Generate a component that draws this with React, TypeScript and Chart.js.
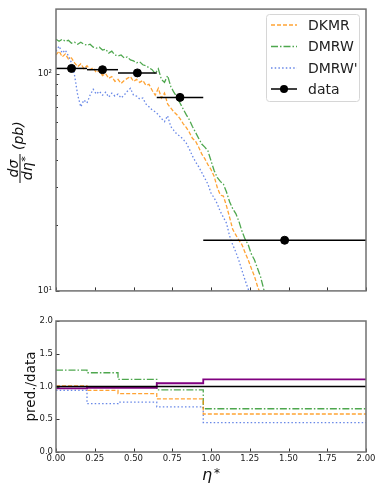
import React, { useEffect, useRef } from "react";
import { Chart, registerables } from "chart.js";

Chart.register(...registerables);

const FONT = '"DejaVu Sans", sans-serif';

// ---------- data ----------
const etaGrid = [
  0.0, 0.02, 0.04, 0.06, 0.08, 0.1, 0.12, 0.14, 0.16, 0.18,
  0.2, 0.22, 0.24, 0.26, 0.28, 0.3, 0.32, 0.34, 0.36, 0.38,
  0.4, 0.42, 0.44, 0.46, 0.48, 0.5, 0.52, 0.54, 0.56, 0.58,
  0.6, 0.62, 0.64, 0.66, 0.68, 0.7, 0.72, 0.74, 0.76, 0.78,
  0.8, 0.82, 0.84, 0.86, 0.88, 0.9, 0.92, 0.94, 0.96, 0.98,
  1.0, 1.02, 1.04, 1.06, 1.08, 1.1, 1.12, 1.14, 1.16, 1.18,
  1.2, 1.22, 1.24, 1.26, 1.28, 1.3, 1.32, 1.34, 1.36,
];

const dkmr = [
  121.8, 126.9, 119.3, 123.1, 116.8, 118.0, 112.1, 107.5, 110.9, 105.3,
  108.6, 104.2, 106.4, 101.0, 103.2, 97.9, 100.0, 95.0, 96.9, 92.0,
  94.0, 90.1, 93.0, 95.0, 96.9, 92.0, 94.0, 91.1, 93.0, 88.3,
  89.2, 83.8, 79.6, 85.6, 77.2, 81.3, 72.5, 69.5, 66.7, 64.7,
  62.1, 58.9, 56.5, 53.7, 50.4, 48.9, 45.9, 42.7, 40.6, 38.1,
  36.2, 33.7, 30.0, 27.6, 27.3, 24.6, 21.8, 19.2, 18.1, 17.1,
  16.3, 15.0, 13.9, 12.7, 11.7, 10.5, 9.6,
];

const dmrw = [
  143.8, 140.8, 143.8, 140.8, 142.3, 137.9, 139.4, 136.5, 139.4, 136.5,
  135.1, 136.5, 132.3, 130.9, 132.3, 128.3, 129.6, 124.3, 126.9, 121.8,
  120.5, 121.8, 118.0, 119.3, 115.6, 114.4, 112.1, 113.3, 109.8, 108.6,
  106.4, 104.2, 100.0, 105.3, 94.0, 91.1, 97.9, 87.4, 82.1, 77.9,
  73.2, 68.8, 64.7, 61.4, 57.1, 53.7, 50.4, 47.4, 45.9, 44.1,
  39.7, 35.8, 33.3, 31.9, 31.0, 28.5, 25.7, 23.9, 22.7, 20.9,
  18.8, 17.3, 16.3, 14.8, 13.9, 12.7, 11.6, 10.2, 9.3,
];

const dmrwPrime = [
  126.9, 133.7, 124.3, 128.3, 120.5, 112.1, 97.9, 79.6, 70.3, 75.6,
  73.2, 79.6, 84.7, 80.4, 82.9, 79.6, 82.1, 77.9, 81.3, 78.8,
  80.4, 77.2, 79.6, 82.9, 85.6, 79.6, 78.8, 76.4, 77.2, 72.5,
  70.3, 68.1, 66.7, 64.7, 62.1, 60.1, 64.0, 57.1, 54.8, 52.6,
  51.5, 49.9, 47.9, 45.0, 41.8, 39.3, 37.3, 35.1, 33.0, 31.0,
  28.2, 26.8, 25.2, 23.2, 21.8, 20.5, 17.9, 16.3, 15.1, 13.8,
  12.4, 11.2, 10.2, 9.3,
];

const dataEta = [0.1, 0.3, 0.525, 0.8, 1.475];
const dataXsec = [105.6, 104.2, 100.7, 77.7, 17.1];
const binEdges = [0, 0.2, 0.4, 0.65, 0.95, 2.0];

const ratioDKMR = [1.01, 0.94, 0.89, 0.81, 0.58];
const ratioDMRW = [1.25, 1.21, 1.11, 0.95, 0.66];
const ratioDMRWPrime = [0.94, 0.74, 0.76, 0.69, 0.45];
const ratioPurple = [0.97, 0.98, 0.98, 1.05, 1.11];
const ratioUnity = [1, 1, 1, 1, 1];

const seriesNames = ["DKMR", "DMRW", "DMRW'", "data"];
const logTicks = [10, 20, 30, 40, 50, 60, 70, 80, 90, 100];
const logMajor = [10, 100];
const etaTicks = [0, 0.25, 0.5, 0.75, 1.0, 1.25, 1.5, 1.75, 2.0];
const ratioTicks = [0, 0.5, 1.0, 1.5, 2.0];

// ---------- styles ----------
const ORANGE = "rgba(255,140,0,0.8)";
const GREEN = "rgba(34,145,34,0.8)";
const BLUE = "rgba(65,105,225,0.8)";
const PURPLE = "#800080";
const DASH = [4, 2];
const DASHDOT = [7, 2, 1.5, 2];
const DOT = [1.5, 2.2];

const styles = [
  { color: ORANGE, dash: DASH },
  { color: GREEN, dash: DASHDOT },
  { color: BLUE, dash: DOT },
];

function curve(values: number[]) {
  return values.map((v, i) => ({ x: etaGrid[i], y: v }));
}
function steps(values: number[]) {
  return binEdges.map((e, i) => ({ x: e, y: values[Math.min(i, values.length - 1)] }));
}

function drawFrameTicks(chart: any, xVals: number[], yMajor: number[], yMinor: number[]) {
  const { ctx, chartArea: a, scales } = chart;
  const sx = scales.x;
  const sy = scales.y;
  ctx.save();
  ctx.strokeStyle = "#333";
  ctx.lineWidth = 1;
  ctx.beginPath();
  xVals.forEach((v) => {
    const px = Math.round(sx.getPixelForValue(v)) + 0.5;
    ctx.moveTo(px, a.bottom);
    ctx.lineTo(px, a.bottom - 3.5);
  });
  yMajor.forEach((v) => {
    const py = Math.round(sy.getPixelForValue(v)) + 0.5;
    ctx.moveTo(a.left, py);
    ctx.lineTo(a.left + 3.5, py);
  });
  yMinor.forEach((v) => {
    const py = Math.round(sy.getPixelForValue(v)) + 0.5;
    ctx.moveTo(a.left, py);
    ctx.lineTo(a.left + 2, py);
  });
  ctx.stroke();
  ctx.strokeStyle = "#707070";
  ctx.lineWidth = 1.5;
  ctx.strokeRect(a.left, a.top, a.right - a.left, a.bottom - a.top);
  ctx.restore();
}

const topDecor = {
  id: "topDecor",
  afterDraw(chart: any) {
    drawFrameTicks(
      chart,
      etaTicks,
      logMajor,
      logTicks.filter((v) => !logMajor.includes(v))
    );
    const ctx = chart.ctx;
    // y label: d sigma / d eta* (pb)
    ctx.save();
    ctx.translate(0, 184);
    ctx.rotate(-Math.PI / 2);
    ctx.fillStyle = "#111";
    const it = `italic 14px ${FONT}`;
    ctx.font = it;
    ctx.textBaseline = "alphabetic";
    const mid = 15.5;
    ctx.textAlign = "center";
    ctx.fillText("dσ", mid, 18);
    ctx.fillRect(1, 19.5, 29, 1);
    ctx.textAlign = "left";
    const w1 = ctx.measureText("dη").width;
    ctx.font = `11px ${FONT}`;
    const w2 = ctx.measureText("*").width;
    const start = mid - (w1 + w2) / 2;
    ctx.font = it;
    ctx.fillText("dη", start, 31.5);
    ctx.font = `11px ${FONT}`;
    ctx.fillText("*", start + w1 + 0.5, 29);
    ctx.font = it;
    ctx.fillText("(pb)", 34, 23);
    ctx.restore();

    // legend
    ctx.save();
    const lx = 266.5, ly = 14.5, lw = 93, lh = 87, r = 3;
    ctx.beginPath();
    ctx.moveTo(lx + r, ly);
    ctx.lineTo(lx + lw - r, ly);
    ctx.quadraticCurveTo(lx + lw, ly, lx + lw, ly + r);
    ctx.lineTo(lx + lw, ly + lh - r);
    ctx.quadraticCurveTo(lx + lw, ly + lh, lx + lw - r, ly + lh);
    ctx.lineTo(lx + r, ly + lh);
    ctx.quadraticCurveTo(lx, ly + lh, lx, ly + lh - r);
    ctx.lineTo(lx, ly + r);
    ctx.quadraticCurveTo(lx, ly, lx + r, ly);
    ctx.closePath();
    ctx.fillStyle = "rgba(255,255,255,0.85)";
    ctx.fill();
    ctx.strokeStyle = "#d6d6d6";
    ctx.lineWidth = 1;
    ctx.stroke();
    const rows = [25, 46.5, 68, 89];
    ctx.font = `14px ${FONT}`;
    ctx.textBaseline = "middle";
    ctx.textAlign = "left";
    seriesNames.forEach((name, i) => {
      const y = rows[i];
      ctx.beginPath();
      if (i < 3) {
        ctx.strokeStyle = styles[i].color;
        ctx.setLineDash(styles[i].dash);
        ctx.lineWidth = 1.3;
      } else {
        ctx.strokeStyle = "#000";
        ctx.setLineDash([]);
        ctx.lineWidth = 1.5;
      }
      ctx.moveTo(271, y);
      ctx.lineTo(297, y);
      ctx.stroke();
      ctx.setLineDash([]);
      if (i === 3) {
        ctx.beginPath();
        ctx.fillStyle = "#000";
        ctx.arc(284, y, 4, 0, Math.PI * 2);
        ctx.fill();
      }
      ctx.fillStyle = "#222";
      ctx.fillText(name, 308, y + 1);
    });
    ctx.restore();
  },
};

const bottomDecor = {
  id: "bottomDecor",
  afterDraw(chart: any) {
    drawFrameTicks(chart, etaTicks, ratioTicks, []);
    const ctx = chart.ctx;
    const a = chart.chartArea;
    ctx.save();
    ctx.fillStyle = "#111";
    // y label
    ctx.translate(35, (a.top + a.bottom) / 2);
    ctx.rotate(-Math.PI / 2);
    ctx.font = `13.5px ${FONT}`;
    ctx.textAlign = "center";
    ctx.textBaseline = "alphabetic";
    ctx.fillText("pred./data", 0, 0);
    ctx.restore();
    // x label eta*
    ctx.save();
    ctx.fillStyle = "#111";
    ctx.font = `italic 16px ${FONT}`;
    const wEta = ctx.measureText("η").width;
    ctx.font = `12px ${FONT}`;
    const wStar = ctx.measureText("*").width;
    const cx = (a.left + a.right) / 2;
    const x0 = cx - (wEta + wStar + 2) / 2;
    ctx.textBaseline = "alphabetic";
    ctx.textAlign = "left";
    ctx.font = `italic 16px ${FONT}`;
    ctx.fillText("η", x0, 180);
    ctx.font = `12px ${FONT}`;
    ctx.fillText("*", x0 + wEta + 2, 177);
    ctx.restore();
  },
};

function lineDs(data: any[], color: string, dash: number[], width: number, stepped?: any) {
  return {
    type: "line",
    data,
    borderColor: color,
    borderDash: dash,
    borderWidth: width,
    pointRadius: 0,
    fill: false,
    tension: 0,
    stepped: stepped || false,
  };
}

export default function App() {
  const topRef = useRef<HTMLCanvasElement>(null);
  const botRef = useRef<HTMLCanvasElement>(null);

  useEffect(() => {
    const tickFont = { family: FONT, size: 8.5 };
    const top = new Chart(topRef.current as HTMLCanvasElement, {
      type: "line",
      data: {
        datasets: [
          {
            type: "scatter",
            data: dataEta.map((e, i) => ({ x: e, y: dataXsec[i] })),
            pointRadius: 4,
            pointBackgroundColor: "#000",
            pointBorderColor: "#000",
            showLine: false,
          },
          ...dataEta.map((_, i) =>
            lineDs(
              [
                { x: binEdges[i], y: dataXsec[i] },
                { x: binEdges[i + 1], y: dataXsec[i] },
              ],
              "#000",
              [],
              1.5
            )
          ),
          lineDs(curve(dkmr), ORANGE, DASH, 1.3),
          lineDs(curve(dmrw), GREEN, DASHDOT, 1.3),
          lineDs(curve(dmrwPrime), BLUE, DOT, 1.3),
        ] as any,
      },
      options: {
        animation: false,
        responsive: false,
        devicePixelRatio: 1,
        events: [],
        layout: { padding: { left: 0, right: 16, top: 7, bottom: 0 } },
        plugins: { legend: { display: false }, tooltip: { enabled: false } },
        scales: {
          x: {
            type: "linear",
            min: 0,
            max: 2,
            grid: { display: false, drawTicks: false },
            border: { display: false },
            ticks: { display: false },
            afterFit: (s: any) => {
              s.height = 5;
            },
          },
          y: {
            type: "logarithmic",
            min: 10,
            max: 198,
            grid: { display: false, drawTicks: false },
            border: { display: false },
            afterBuildTicks: (s: any) => {
              s.ticks = logTicks.map((v) => ({ value: v }));
            },
            ticks: {
              autoSkip: false,
              padding: 4,
              color: "#222",
              font: tickFont,
              callback: (v: any) => (v === 10 ? "10¹" : v === 100 ? "10²" : ""),
            },
            afterFit: (s: any) => {
              s.width = 56;
            },
          },
        },
      } as any,
      plugins: [topDecor],
    });

    const bot = new Chart(botRef.current as HTMLCanvasElement, {
      type: "line",
      data: {
        datasets: [
          lineDs(steps(ratioUnity), "#000", [], 1.5, "before"),
          lineDs(steps(ratioPurple), PURPLE, [], 1.8, "before"),
          lineDs(steps(ratioDKMR), ORANGE, DASH, 1.3, "before"),
          lineDs(steps(ratioDMRW), GREEN, DASHDOT, 1.3, "before"),
          lineDs(steps(ratioDMRWPrime), BLUE, DOT, 1.3, "before"),
        ] as any,
      },
      options: {
        animation: false,
        responsive: false,
        devicePixelRatio: 1,
        events: [],
        layout: { padding: { left: 0, right: 16, top: 21, bottom: 0 } },
        plugins: { legend: { display: false }, tooltip: { enabled: false } },
        scales: {
          x: {
            type: "linear",
            min: 0,
            max: 2,
            grid: { display: false, drawTicks: false },
            border: { display: false },
            afterBuildTicks: (s: any) => {
              s.ticks = etaTicks.map((v) => ({ value: v }));
            },
            ticks: {
              autoSkip: false,
              maxRotation: 0,
              padding: 2,
              color: "#222",
              font: tickFont,
              callback: (v: any) => Number(v).toFixed(2),
            },
            afterFit: (s: any) => {
              s.height = 39;
            },
          },
          y: {
            type: "linear",
            min: 0,
            max: 2,
            grid: { display: false, drawTicks: false },
            border: { display: false },
            afterBuildTicks: (s: any) => {
              s.ticks = ratioTicks.map((v) => ({ value: v }));
            },
            ticks: {
              autoSkip: false,
              padding: 3,
              color: "#222",
              font: tickFont,
              callback: (v: any) => Number(v).toFixed(1),
            },
            afterFit: (s: any) => {
              s.width = 56;
            },
          },
        },
      } as any,
      plugins: [bottomDecor],
    });

    return () => {
      top.destroy();
      bot.destroy();
    };
  }, []);

  return (
    <div style={{ position: "absolute", left: 0, top: 0, width: 382, height: 491, background: "#fff" }}>
      <canvas
        ref={topRef}
        width={382}
        height={300}
        style={{ position: "absolute", left: 0, top: 0, width: 382, height: 300 }}
      />
      <canvas
        ref={botRef}
        width={382}
        height={191}
        style={{ position: "absolute", left: 0, top: 300, width: 382, height: 191 }}
      />
    </div>
  );
}
